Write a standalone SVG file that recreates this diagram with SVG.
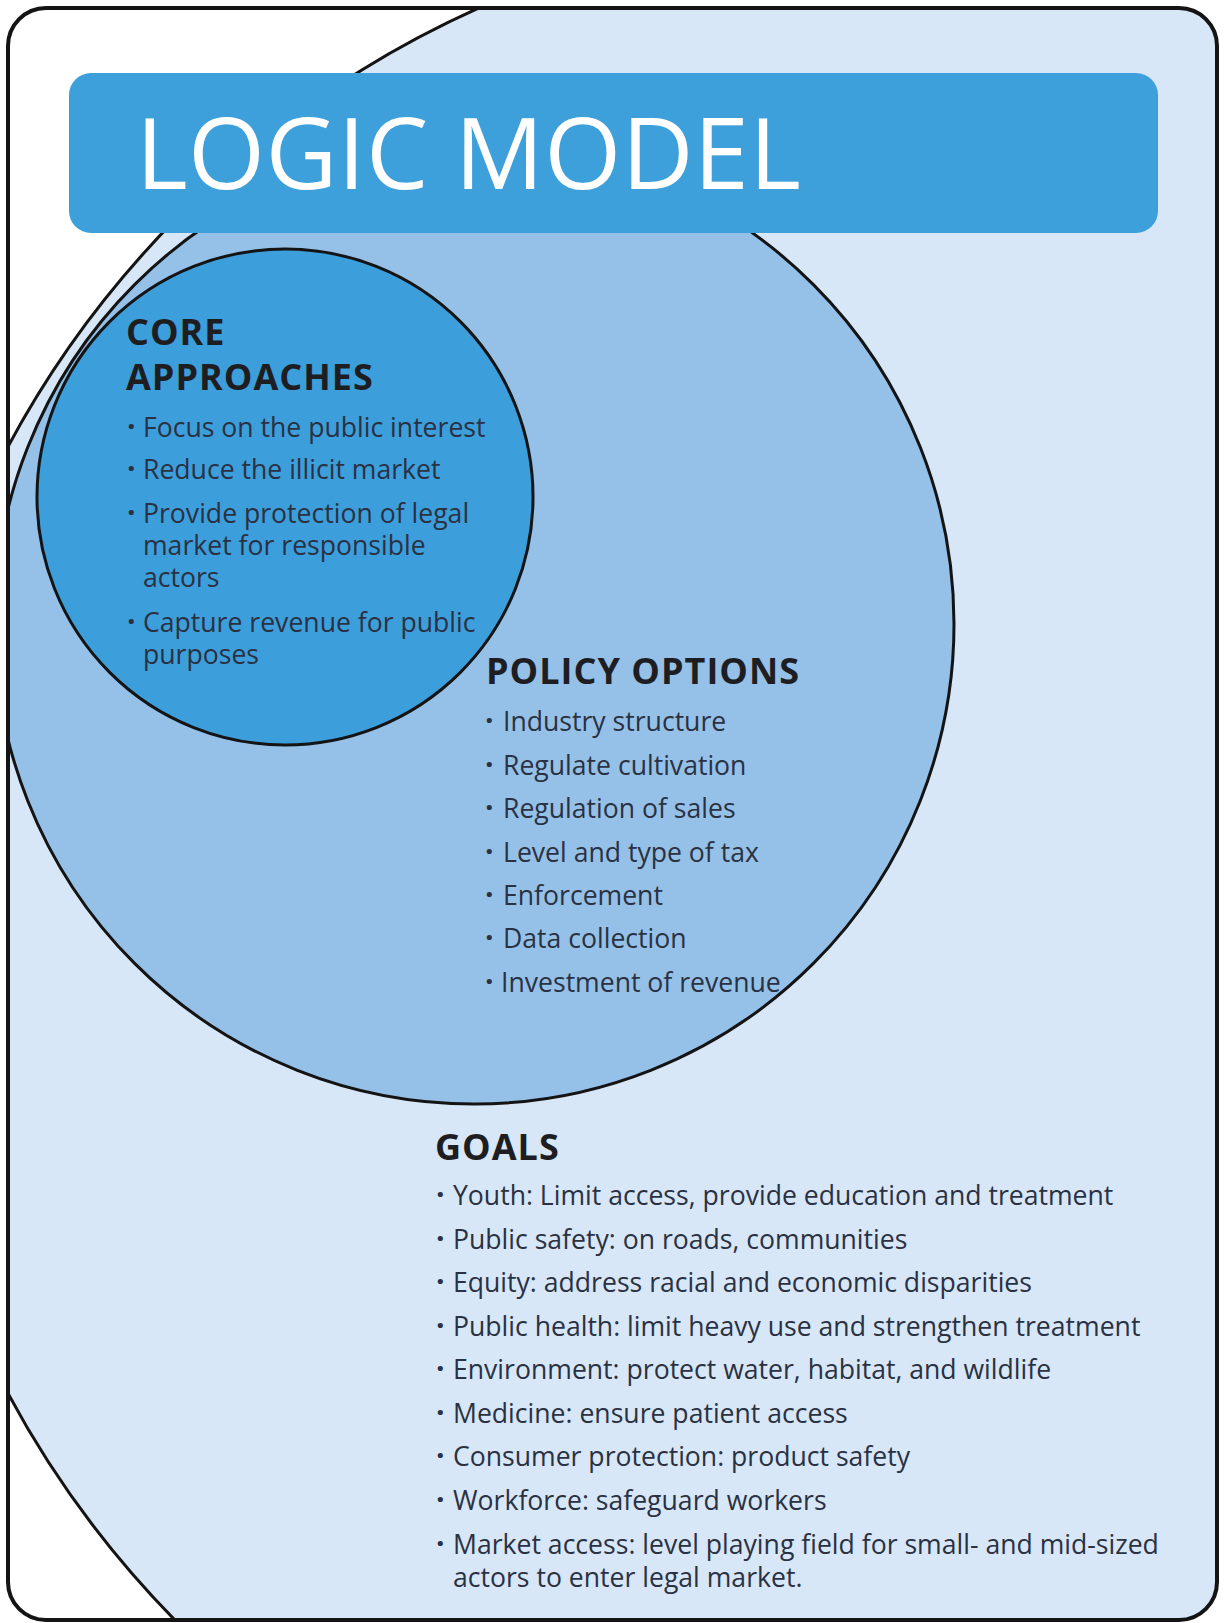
<svg xmlns="http://www.w3.org/2000/svg" width="1225" height="1623" viewBox="0 0 1225 1623">
  <style>
    .ring { stroke: #141414; stroke-width: 3; }
    .title { font-family: "Open Sans", "Liberation Sans", sans-serif; font-size: 99px; font-weight: 500; fill: #ffffff; letter-spacing: 0.4px; }
    .head { font-family: "Open Sans", "Liberation Sans", sans-serif; font-size: 36px; font-weight: 700; fill: #1e1e22; letter-spacing: 1px; }
    .item { font-family: "Open Sans", "Liberation Sans", sans-serif; font-size: 26.6px; font-weight: 400; fill: #2a3142; }
    .dot { font-family: "Open Sans", "Liberation Sans", sans-serif; font-size: 30px; font-weight: 700; fill: #2a3142; }
  </style>
  <defs>
    <clipPath id="frameClip">
      <rect x="8" y="8" width="1209" height="1612" rx="38" ry="38"/>
    </clipPath>
  </defs>
  <rect x="0" y="0" width="1225" height="1623" fill="#ffffff"/>
  <g clip-path="url(#frameClip)">
    <g id="goals">
      <circle class="ring" cx="889" cy="920" r="1000" fill="#d7e7f7"/>
    </g>
    <g id="policy-options">
      <circle class="ring" cx="474" cy="624" r="480" fill="#95c1e8"/>
    </g>
    <g id="core-approaches">
      <circle class="ring" cx="285" cy="497" r="248" fill="#3d9edc"/>
    </g>
    <g id="header">
      <rect x="69" y="73" width="1089" height="160" rx="22" ry="22" fill="#3ea0db"/>
    </g>
  </g>
  <rect id="frame" x="8" y="8" width="1209" height="1612" rx="38" ry="38" fill="none" stroke="#141414" stroke-width="4"/>

  <g id="connectors"></g>

  <g id="title-text">
    <text class="title" x="136" y="189">LOGIC MODEL</text>
  </g>

  <g id="core-text">
    <text class="head" x="126" y="345">CORE</text>
    <text class="head" x="126" y="390">APPROACHES</text>
    <text class="dot" x="127" y="437">·</text><text class="item" x="143" y="437">Focus on the public interest</text>
    <text class="dot" x="127" y="479">·</text><text class="item" x="143" y="479">Reduce the illicit market</text>
    <text class="dot" x="127" y="523">·</text><text class="item" x="143" y="523">Provide protection of legal<tspan x="143" dy="32">market for responsible</tspan><tspan x="143" dy="32">actors</tspan></text>
    <text class="dot" x="127" y="632">·</text><text class="item" x="143" y="632">Capture revenue for public<tspan x="143" dy="32">purposes</tspan></text>
  </g>

  <g id="policy-text">
    <text class="head" x="486" y="684">POLICY OPTIONS</text>
    <text class="dot" x="485" y="731">·</text><text class="item" x="503" y="731">Industry structure</text>
    <text class="dot" x="485" y="775">·</text><text class="item" x="503" y="775">Regulate cultivation</text>
    <text class="dot" x="485" y="818">·</text><text class="item" x="503" y="818">Regulation of sales</text>
    <text class="dot" x="485" y="862">·</text><text class="item" x="503" y="862">Level and type of tax</text>
    <text class="dot" x="485" y="905">·</text><text class="item" x="503" y="905">Enforcement</text>
    <text class="dot" x="485" y="948">·</text><text class="item" x="503" y="948">Data collection</text>
    <text class="dot" x="485" y="992">·</text><text class="item" x="501" y="992">Investment of revenue</text>
  </g>

  <g id="goals-text">
    <text class="head" x="435" y="1160">GOALS</text>
    <text class="dot" x="436" y="1205">·</text><text class="item" x="453" y="1205">Youth: Limit access, provide education and treatment</text>
    <text class="dot" x="436" y="1249">·</text><text class="item" x="453" y="1249">Public safety: on roads, communities</text>
    <text class="dot" x="436" y="1292">·</text><text class="item" x="453" y="1292">Equity: address racial and economic disparities</text>
    <text class="dot" x="436" y="1336">·</text><text class="item" x="453" y="1336">Public health: limit heavy use and strengthen treatment</text>
    <text class="dot" x="436" y="1379">·</text><text class="item" x="453" y="1379">Environment: protect water, habitat, and wildlife</text>
    <text class="dot" x="436" y="1423">·</text><text class="item" x="453" y="1423">Medicine: ensure patient access</text>
    <text class="dot" x="436" y="1466">·</text><text class="item" x="453" y="1466">Consumer protection: product safety</text>
    <text class="dot" x="436" y="1510">·</text><text class="item" x="453" y="1510">Workforce: safeguard workers</text>
    <text class="dot" x="436" y="1554">·</text><text class="item" x="453" y="1554">Market access: level playing field for small- and mid-sized<tspan x="453" dy="33">actors to enter legal market.</tspan></text>
  </g>
</svg>
